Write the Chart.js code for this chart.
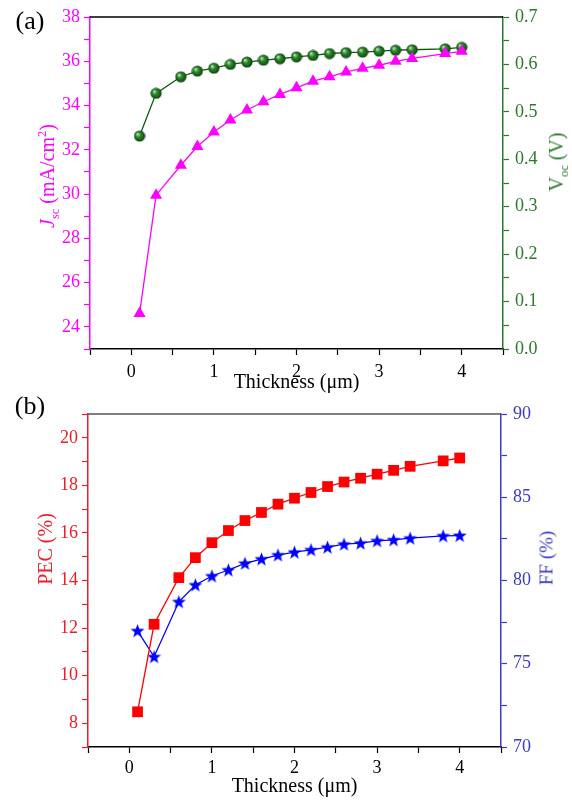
<!DOCTYPE html>
<html>
<head>
<meta charset="utf-8">
<script src="https://cdn.jsdelivr.net/npm/chart.js@4/dist/chart.umd.min.js"></script>
<style>
  body { margin: 0; background: #fff; }
  #wrap { position: relative; width: 572px; height: 803px; font-family: "Liberation Serif", "DejaVu Serif", serif; }
  canvas { position: absolute; left: 0; }
  .lbl { position: absolute; white-space: nowrap; line-height: 1; transform: translate(-50%, -50%); }
  .rot { transform: translate(-50%, -50%) rotate(-90deg); }
  sub, sup { font-size: 0.62em; line-height: 0; }
</style>
</head>
<body>
<div id="wrap">
  <canvas id="chartA" style="top:0" width="572" height="395"></canvas>
  <canvas id="chartB" style="top:395px" width="572" height="408"></canvas>
  <div class="lbl" style="left:30px;top:21px;font-size:26px">(a)</div>
  <div class="lbl" style="left:30px;top:406px;font-size:26px">(b)</div>
  <div class="lbl rot" style="left:47px;top:176px;font-size:20px;color:#ff00ff"><i>J</i><sub>sc</sub> (mA/cm<sup>2</sup>)</div>
  <div class="lbl rot" style="left:556px;top:162px;font-size:20px;color:#2a7a2a">V<sub>oc</sub> (V)</div>
  <div class="lbl rot" style="left:45px;top:549px;font-size:20px;color:#e8202a">PEC (%)</div>
  <div class="lbl rot" style="left:546px;top:558px;font-size:19px;color:#3b3bc4">FF (%)</div>
</div>
<script>
const thickness = [0.1, 0.3, 0.6, 0.8, 1.0, 1.2, 1.4, 1.6, 1.8, 2.0, 2.2, 2.4, 2.6, 2.8, 3.0, 3.2, 3.4, 3.8, 4.0];
const jsc = [24.6, 29.95, 31.3, 32.15, 32.8, 33.35, 33.8, 34.17, 34.5, 34.8, 35.1, 35.3, 35.52, 35.68, 35.82, 36.0, 36.13, 36.35, 36.45];
const voc = [0.449, 0.539, 0.574, 0.586, 0.592, 0.600, 0.605, 0.609, 0.612, 0.616, 0.619, 0.623, 0.625, 0.626, 0.628, 0.630, 0.631, 0.633, 0.636];
const pec = [8.48, 12.16, 14.12, 14.96, 15.59, 16.1, 16.52, 16.86, 17.21, 17.46, 17.7, 17.95, 18.14, 18.3, 18.47, 18.63, 18.8, 19.03, 19.15];
const ff = [76.98, 75.42, 78.72, 79.73, 80.27, 80.63, 81.03, 81.29, 81.53, 81.7, 81.84, 82.0, 82.18, 82.24, 82.38, 82.44, 82.54, 82.68, 82.7];

const xTickLabels = [0, 1, 2, 3, 4];
const jscTickLabels = [24, 26, 28, 30, 32, 34, 36, 38];
const vocTickLabels = [0.0, 0.1, 0.2, 0.3, 0.4, 0.5, 0.6, 0.7];
const pecTickLabels = [8, 10, 12, 14, 16, 18, 20];
const ffTickLabels = [70, 75, 80, 85, 90];

const pts = ys => thickness.map((x, i) => ({ x: x, y: ys[i] }));
const has = (list, v) => list.some(t => Math.abs(t - v) < 1e-6);

Chart.defaults.font.family = "'Liberation Serif', 'Times New Roman', serif";

// shaded ball marker for Voc
function makeBall() {
  const c = document.createElement("canvas");
  c.width = 12; c.height = 12;
  const g = c.getContext("2d");
  const grad = g.createRadialGradient(4, 4, 0.5, 6, 6, 6);
  grad.addColorStop(0, "#b8e0b8");
  grad.addColorStop(0.35, "#2f8a2f");
  grad.addColorStop(1, "#083d08");
  g.fillStyle = grad;
  g.beginPath(); g.arc(6, 6, 5.6, 0, Math.PI * 2); g.fill();
  return c;
}

// filled five point star for FF
function makeStar() {
  const c = document.createElement("canvas");
  c.width = 15; c.height = 15;
  const g = c.getContext("2d");
  g.fillStyle = "#0000ff";
  g.beginPath();
  for (let i = 0; i < 10; i++) {
    const r = i % 2 === 0 ? 7.3 : 3.0;
    const a = -Math.PI / 2 + i * Math.PI / 5;
    const px = 7.5 + r * Math.cos(a), py = 8 + r * Math.sin(a);
    i === 0 ? g.moveTo(px, py) : g.lineTo(px, py);
  }
  g.closePath(); g.fill();
  return c;
}

const topBorder = {
  id: "topBorder",
  afterDraw(chart, args, opts) {
    const { ctx, chartArea: a } = chart;
    ctx.save();
    ctx.strokeStyle = opts.color;
    ctx.lineWidth = 1.5;
    ctx.beginPath();
    ctx.moveTo(a.left, a.top);
    ctx.lineTo(a.right, a.top);
    ctx.stroke();
    ctx.restore();
  }
};

const tickFont = { size: 18 };

function xAxis(height, tickPad, titlePad) {
  return {
    type: "linear", min: -0.5, max: 4.5,
    afterFit: s => { s.height = height; },
    ticks: {
      stepSize: 0.5, color: "#000", font: tickFont, padding: tickPad, maxRotation: 0, autoSkip: false,
      callback: v => has(xTickLabels, v) ? String(v) : ""
    },
    grid: { drawOnChartArea: false, tickLength: 6, tickColor: "#000", tickWidth: 1.2 },
    border: { color: "#000", width: 1.5 },
    title: { display: true, text: "Thickness (\u03bcm)", color: "#000", font: { size: 20 }, padding: { top: 0, bottom: titlePad } }
  };
}

function yAxis(pos, color, min, max, step, labels, fmt, width, pad) {
  return {
    type: "linear", position: pos, min: min, max: max,
    afterFit: s => { s.width = width; },
    ticks: {
      stepSize: step, color: color, font: tickFont, padding: pad, autoSkip: false,
      callback: v => has(labels, v) ? fmt(v) : ""
    },
    grid: { drawOnChartArea: false, tickLength: 6, tickColor: color, tickWidth: 1.2 },
    border: { color: color, width: 1.5 }
  };
}

const common = {
  responsive: false,
  animation: false,
  events: [],
  plugins: { legend: { display: false }, tooltip: { enabled: false } }
};

function drawCharts() {
  new Chart(document.getElementById("chartA"), {
    type: "line",
    data: {
      datasets: [
        {
          data: pts(jsc), yAxisID: "y",
          borderColor: "#ff00ff", borderWidth: 1.3,
          pointStyle: "triangle", pointRadius: 7, pointBackgroundColor: "#ff00ff", pointBorderColor: "#ff00ff", pointBorderWidth: 0
        },
        {
          data: pts(voc), yAxisID: "y2",
          borderColor: "#0b5a0b", borderWidth: 1.3,
          pointStyle: makeBall(), pointRadius: 6
        }
      ]
    },
    options: Object.assign({}, common, {
      layout: { padding: { top: 17, left: 0, right: 0, bottom: 0 } },
      plugins: Object.assign({}, common.plugins, { topBorder: { color: "#000" } }),
      scales: {
        x: xAxis(46, 6, 0),
        y: yAxis("left", "#ff00ff", 23, 38, 1, jscTickLabels, v => String(v), 90, 4),
        y2: yAxis("right", "#2a7a2a", 0, 0.7, 0.05, vocTickLabels, v => v.toFixed(1), 69, 6)
      }
    }),
    plugins: [topBorder]
  });

  new Chart(document.getElementById("chartB"), {
    type: "line",
    data: {
      datasets: [
        {
          data: pts(pec), yAxisID: "y",
          borderColor: "#ff0000", borderWidth: 1.3,
          pointStyle: "rect", pointRadius: 7.6, pointBackgroundColor: "#ff0000", pointBorderColor: "#ff0000", pointBorderWidth: 0
        },
        {
          data: pts(ff), yAxisID: "y2",
          borderColor: "#0000ff", borderWidth: 1.3,
          pointStyle: makeStar(), pointRadius: 7
        }
      ]
    },
    options: Object.assign({}, common, {
      layout: { padding: { top: 19, left: 0, right: 0, bottom: 0 } },
      plugins: Object.assign({}, common.plugins, { topBorder: { color: "#555" } }),
      scales: {
        x: xAxis(56, 4, 4),
        y: yAxis("left", "#e8202a", 7, 21, 1, pecTickLabels, v => String(v), 88, 4),
        y2: yAxis("right", "#3b3bc4", 70, 90, 2.5, ffTickLabels, v => String(v), 71, 6)
      }
    }),
    plugins: [topBorder]
  });
}

if (document.fonts && document.fonts.load) {
  document.fonts.load("18px 'Liberation Serif'").then(drawCharts, drawCharts);
} else {
  drawCharts();
}
</script>
</body>
</html>
